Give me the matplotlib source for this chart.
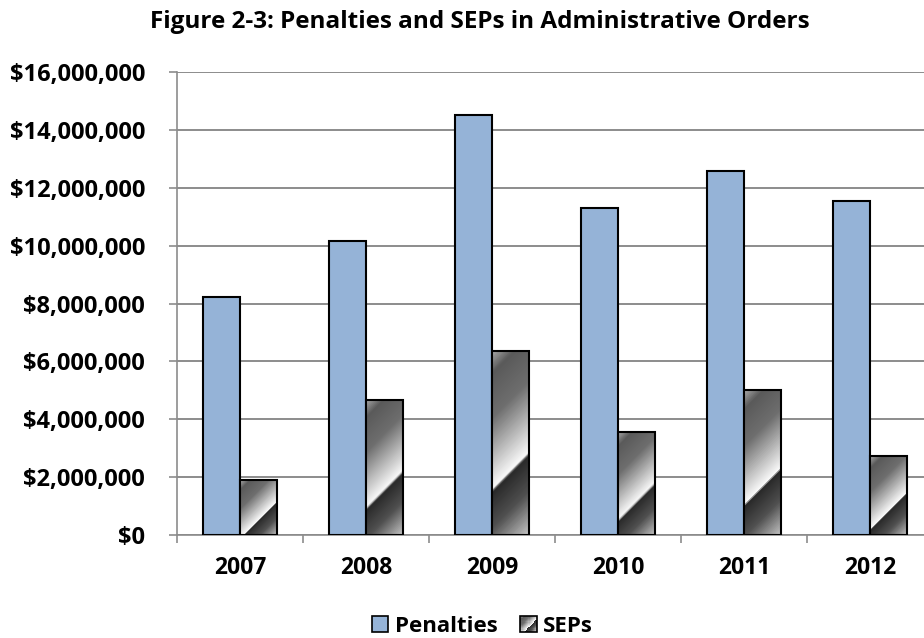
import numpy as np
import matplotlib
matplotlib.use('Agg')
import matplotlib.pyplot as plt
from matplotlib.colors import LinearSegmentedColormap
from matplotlib.patches import Rectangle
from matplotlib.legend_handler import HandlerBase
from matplotlib.ticker import FuncFormatter, MultipleLocator

# ------------------------------
# DATA
# ------------------------------
years = ['2007', '2008', '2009', '2010', '2011', '2012']
penalties = [8240000, 10170000, 14510000, 11310000, 12580000, 11540000]
seps = [1900000, 4670000, 6370000, 3560000, 5010000, 2730000]

plt.rcParams['font.family'] = ['Open Sans', 'DejaVu Sans']
plt.rcParams['font.weight'] = 'bold'

blue = '#95B3D7'
grid_gray = '#8c8c8c'
chrome = LinearSegmentedColormap.from_list('chrome', [
    (0.0, '#a8a8a8'), (0.1, '#5a5a5a'), (0.3, '#6e6e6e'), (0.62, '#f8f8f8'),
    (0.64, '#2a2a2a'), (0.8, '#505050'), (1.0, '#c8c8c8')])

fig = plt.figure(figsize=(9.24, 6.38), dpi=100)
ax = fig.add_axes([177/924, 1 - 535/638, 756/924, 463/638])

x = np.arange(len(years))
w = 0.29
ax.set_xlim(-0.5, len(years) - 0.5)
ax.set_ylim(0, 16000000)
ax.set_axisbelow(True)

ax.bar(x - w/2, penalties, w, color=blue, edgecolor='black', linewidth=1.5, zorder=3)

# SEP bars with a chrome-like diagonal gradient
for xi, v in zip(x, seps):
    x0, x1 = xi, xi + w
    p0 = ax.transData.transform((x0, 0))
    p1 = ax.transData.transform((x1, v))
    W = max(int(round(p1[0] - p0[0])), 2)
    H = max(int(round(p1[1] - p0[1])), 2)
    yy, xx = np.mgrid[0:H, 0:W]
    u = (yy + xx) / float(H + W)
    im = ax.imshow(u, cmap=chrome, vmin=0, vmax=1, extent=(x0, x1, 0, v),
                   origin='upper', aspect='auto', interpolation='bilinear', zorder=3)
    rect = Rectangle((x0, 0), w, v, facecolor='none', edgecolor='black',
                     linewidth=1.5, zorder=4)
    ax.add_patch(rect)
    im.set_clip_path(rect)

ax.set_xlim(-0.5, len(years) - 0.5)
ax.set_ylim(0, 16000000)

# axes styling
ax.yaxis.set_major_locator(MultipleLocator(2000000))
ax.yaxis.set_major_formatter(FuncFormatter(lambda v, p: '${:,.0f}'.format(v)))
ax.grid(axis='y', color=grid_gray, linewidth=1.4)
for s in ['top', 'right']:
    ax.spines[s].set_visible(False)
for s in ['left', 'bottom']:
    ax.spines[s].set_color(grid_gray)
    ax.spines[s].set_linewidth(1.2)
ax.tick_params(axis='y', length=6, color=grid_gray, width=1.2, labelsize=17, pad=17)
for lab in ax.get_yticklabels():
    lab.set_fontweight('bold')
ax.set_xticks(x)
ax.set_xticklabels(years, fontsize=16.5, fontweight='bold')
ax.set_xticks(np.arange(-0.5, len(years), 1), minor=True)
ax.tick_params(axis='x', which='major', length=0, pad=15)
ax.tick_params(axis='x', which='minor', length=6, color=grid_gray, width=1.2)

fig.text(0.519, 1 - 22/638, 'Figure 2-3: Penalties and SEPs in Administrative Orders',
         ha='center', va='center', fontsize=17.5, fontweight='bold')


class GradHandler(HandlerBase):
    def create_artists(self, legend, orig_handle, xdescent, ydescent,
                       width, height, fontsize, trans):
        s = height
        x0 = -xdescent + width - s
        y0 = -ydescent
        n = 14
        arts = []
        for i in range(n):
            for j in range(n):
                uu = (i + (n - 1 - j)) / (2.0 * n - 2)
                arts.append(Rectangle((x0 + i*s/n, y0 + j*s/n), s/n*1.05, s/n*1.05,
                                      facecolor=chrome(uu), edgecolor='none',
                                      antialiased=False, transform=trans))
        arts.append(Rectangle((x0, y0), s, s, facecolor='none', edgecolor='black',
                              linewidth=1.2, transform=trans))
        return arts


class SquareHandler(HandlerBase):
    def create_artists(self, legend, orig_handle, xdescent, ydescent,
                       width, height, fontsize, trans):
        s = height
        return [Rectangle((-xdescent + width - s, -ydescent), s, s, facecolor=blue,
                          edgecolor='black', linewidth=1.2, transform=trans)]


h1 = Rectangle((0, 0), 1, 1)
h2 = Rectangle((0, 0), 1, 1)
fig.legend([h1, h2], ['Penalties', 'SEPs'], loc='center', bbox_to_anchor=(0.522, 1 - 626/638),
           ncol=2, frameon=False, handler_map={h1: SquareHandler(), h2: GradHandler()},
           prop={'weight': 'bold', 'size': 16}, handlelength=0.75, handleheight=0.75,
           handletextpad=0.3, columnspacing=1.0, borderpad=0.1)

fig.savefig('out.png', dpi=100)
